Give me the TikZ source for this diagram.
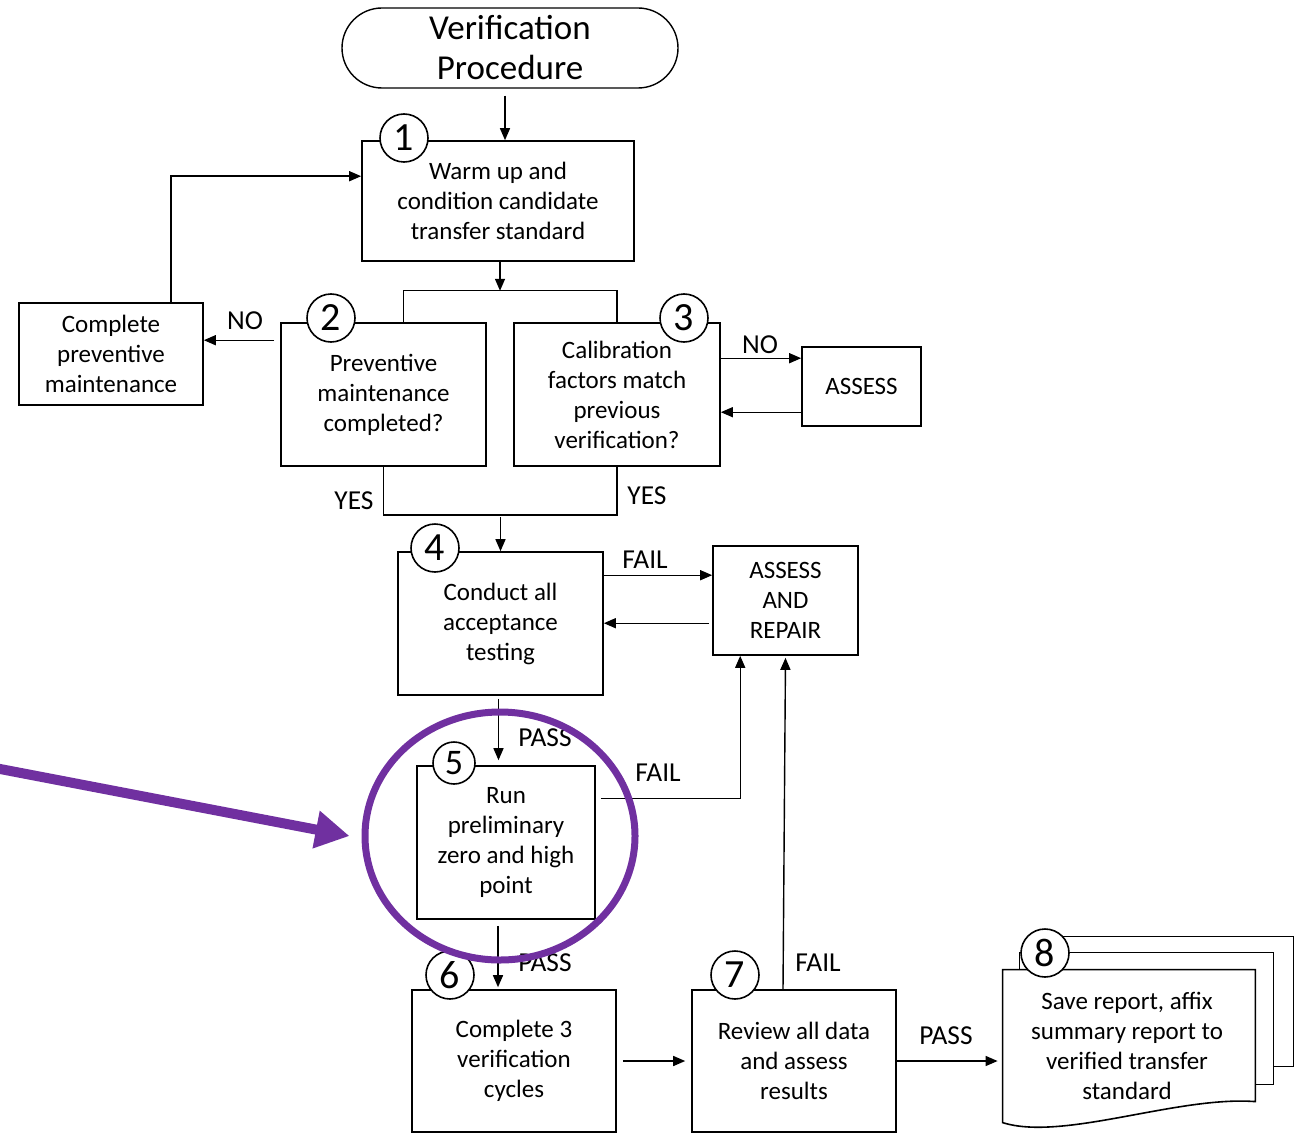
\documentclass[tikz,border=0pt]{standalone}
\usepackage{fontspec}
\setmainfont{Carlito}
\usetikzlibrary{arrows.meta,shapes.misc,shapes.geometric,calc}
\definecolor{hlpurple}{HTML}{7030A0}

\begin{document}
\begin{tikzpicture}[x=0.5pt,y=-0.5pt,
  box/.style={draw, line width=0.8pt, fill=white, align=center, inner sep=0pt,
    font=\fontsize{12.5}{15}\selectfont},
  num/.style={draw, circle, line width=0.8pt, fill=white, minimum size=24pt, inner sep=0pt,
    font=\fontsize{20}{20}\selectfont},
  lbl/.style={font=\fontsize{13.7}{15}\selectfont, inner sep=0pt},
  arr/.style={-{Triangle[length=6pt,width=5pt]}, line width=0.7pt},
  ln/.style={line width=0.7pt},
  page/.style={draw, line width=0.8pt, fill=white}
]
\useasboundingbox (0,0) rectangle (1294,1134);

% start terminal
\node[draw, line width=0.7pt, rounded rectangle, minimum width=168pt, minimum height=40pt,
  align=center, inner sep=0pt, font=\fontsize{17.5}{20}\selectfont] (term) at (510,48)
  {Verification\\Procedure};

% process boxes
\node[box, minimum width=136pt, minimum height=60pt] (b1) at (498,201)
  {Warm up and\\condition candidate\\transfer standard};
\node[box, minimum width=102.5pt, minimum height=71.5pt] (b2) at (383.5,394.5)
  {Preventive\\maintenance\\completed?};
\node[box, minimum width=103pt, minimum height=71.5pt] (b3) at (617,394.5)
  {Calibration\\factors match\\previous\\verification?};
\node[box, minimum width=92pt, minimum height=51pt] (pm) at (111,354)
  {Complete\\preventive\\maintenance};
\node[box, minimum width=59.5pt, minimum height=39.5pt] (as) at (861.5,386.5) {ASSESS};
\node[box, minimum width=102.5pt, minimum height=71.5pt] (b4) at (500.5,623.5)
  {Conduct all\\acceptance\\testing};
\node[box, minimum width=72.5pt, minimum height=54.5pt] (ar) at (785.5,600.5)
  {ASSESS\\AND\\REPAIR};
\node[box, minimum width=89pt, minimum height=76.5pt] (b5) at (506,842.5)
  {Run\\preliminary\\zero and high\\point};
\node[box, minimum width=102pt, minimum height=71pt] (b6) at (514,1061)
  {Complete 3\\verification\\cycles};
\node[box, minimum width=102pt, minimum height=71pt] (b7) at (794,1061)
  {Review all data\\and assess\\results};

% stacked report pages
\node[minimum width=126pt, minimum height=75pt, inner sep=0pt] (d8) at (1129,1045) {};
\draw[page] ($(d8.north west)+(34,-33)$) rectangle ($(d8.north east)+(38,97)$);
\draw[page] ($(d8.north west)+(17,-17)$) rectangle ($(d8.north east)+(18,115)$);
\draw[page] (d8.north west) -- (d8.north east) -- ($(d8.north east)+(0,132)$)
  .. controls ($(d8.north west)+(175,126)$) and ($(d8.north west)+(60,172)$) ..
  ($(d8.north west)+(0,153)$) -- cycle;
\node[align=center, inner sep=0pt, font=\fontsize{12.5}{15}\selectfont] (d8t) at (1127,1046)
  {Save report, affix\\summary report to\\verified transfer\\standard};

% connectors
\coordinate (t1) at ($(term.south)+(-5,7)$);
\draw[arr] (t1) -- (t1 |- b1.north);

\coordinate (j1) at ($(b1.south)+(2,0)$);
\draw[arr] (j1) -- ++(0,29);
\coordinate (f2) at ($(b2.north)+(20,0)$);
\draw[ln] (f2) -- ++(0,-32) -| (b3.north);

\coordinate (n2) at ($(b2.north west)+(-6,18)$);
\draw[arr] (n2) -- (n2 -| pm.east);
\coordinate (p1) at ($(pm.north)+(60,0)$);
\coordinate (e1) at ($(b1.north west)+(0,36)$);
\draw[arr] (p1) |- (e1);

\coordinate (n3) at ($(b3.north east)+(0,36)$);
\draw[arr] (n3) -- (n3 -| as.west);
\coordinate (n3b) at ($(b3.north east)+(0,90)$);
\draw[arr] (n3b -| as.west) -- (n3b);

\draw[ln] (b2.south) -- ++(0,48) -| (b3.south);
\coordinate (m4) at ($(b4.north)+(0,-34)$);
\draw[arr] (m4) -- (b4.north);

\coordinate (f4) at ($(b4.north east)+(0,24)$);
\draw[arr] (f4) -- (f4 -| ar.west);
\coordinate (f4b) at ($(b4.north east)+(0,72)$);
\draw[arr] ($(f4b -| ar.west)+(-3,0)$) -- (f4b);

\coordinate (s4) at ($(b4.south)+(-2,3)$);
\draw[arr] (s4) -- ($(s4 |- b5.north)+(0,-5)$);

\coordinate (f5) at ($(b5.north east)+(5,33)$);
\coordinate (a5) at ($(ar.south west)+(28,0)$);
\draw[arr] (f5) -| (a5);

\coordinate (s5) at ($(b5.south)+(-8,6)$);
\draw[arr] (s5) -- ($(s5 |- b6.north)+(0,-2)$);

\draw[arr] ($(b6.east)+(6,0)$) -- ($(b7.west)+(-6,0)$);
\draw[arr] ($(b7.north)+(-11,0)$) -- ($(ar.south)+(0,2)$);
\draw[arr] (b7.east) -- ($(d8.west |- b7.east)+(-5,0)$);

% branch labels
\node[lbl] (lno2) at (245,321) {NO};
\node[lbl] (lno3) at (760,345) {NO};
\node[lbl] (lyes2) at (354,501) {YES};
\node[lbl] (lyes3) at (647,496) {YES};
\node[lbl] (lf4) at (645,560) {FAIL};
\node[lbl] (lp4) at (545,738) {PASS};
\node[lbl] (lf5) at (658,773) {FAIL};
\node[lbl] (lp5) at (545,963) {PASS};
\node[lbl] (lf7) at (818,963) {FAIL};
\node[lbl] (lp7) at (946,1036) {PASS};

% step numbers
\node[num] (c1) at (404,138) {1};
\node[num] (c2) at (331,318) {2};
\node[num] (c3) at (684,318) {3};
\node[num] (c4) at (435,548) {4};
\node[num, minimum size=21pt, font=\fontsize{18}{18}\selectfont] (c5) at (454,763) {5};
\node[num] (c6) at (450,975) {6};
\node[num] (c7) at (735,975) {7};
\node[num] (c8) at (1045,953) {8};

% highlight on step 5
\node[draw=hlpurple, line width=3.5pt, ellipse, minimum width=135pt, minimum height=124pt,
  inner sep=0pt] (hl) at (500,836) {};
\coordinate (pa) at (-5,768);
\draw[hlpurple, line width=5pt, -{Triangle[length=17pt,width=18pt]}] (pa) -- ($(hl.west)+(-12,0)$);
\end{tikzpicture}
\end{document}
